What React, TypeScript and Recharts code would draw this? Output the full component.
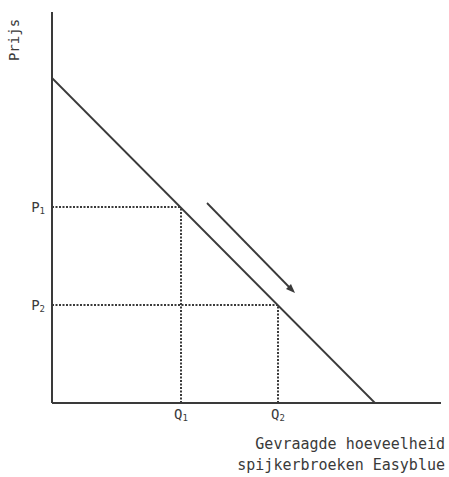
import React from "react";
import { Label, Line, LineChart, ReferenceLine, XAxis, YAxis } from "recharts";

const demand = [
  { q: 0, p: 325 },
  { q: 323, p: 0 },
];
const arrow = [
  { q: 155, p: 200 },
  { q: 240, p: 113 },
];
const quantities = [129, 226];
const prices = [196, 98];
const qLabels = ["Q", "Q"];
const pLabels = ["P", "P"];
const subs = ["1", "2"];
const yTitle = "Prijs";
const xTitle = ["Gevraagde hoeveelheid", "spijkerbroeken Easyblue"];

const FONT = "'DejaVu Sans Mono', monospace";
const INK = "#3a3a3a";

function QTick({ x, y, payload }: any) {
  const i = quantities.indexOf(payload.value);
  return (
    <text x={x} y={y + 16} textAnchor="middle" fontFamily={FONT} fontSize={14} fill={INK}>
      <tspan>{qLabels[i]}</tspan>
      <tspan fontSize={9} dy={2}>{subs[i]}</tspan>
    </text>
  );
}

function PTick({ x, y, payload }: any) {
  const i = prices.indexOf(payload.value);
  return (
    <text x={x - 7} y={y + 5} textAnchor="end" fontFamily={FONT} fontSize={14} fill={INK}>
      <tspan>{pLabels[i]}</tspan>
      <tspan fontSize={9} dy={2}>{subs[i]}</tspan>
    </text>
  );
}

function ArrowHead(props: any) {
  const { cx, cy, index } = props;
  if (index !== arrow.length - 1) return <g key={index} />;
  return (
    <polygon
      key={index}
      points={`${cx + 3},${cy + 3} ${cx - 6},${cy - 1} ${cx - 1},${cy - 6}`}
      fill={INK}
    />
  );
}

export default function App() {
  return (
    <div style={{ position: "absolute", left: 0, top: 0, background: "#fff" }}>
      <LineChart width={449} height={477} margin={{ top: 12, right: 8, bottom: 0, left: 0 }}>
        <XAxis
          type="number"
          dataKey="q"
          domain={[0, 389]}
          ticks={quantities}
          tick={<QTick />}
          tickLine={false}
          tickSize={0}
          tickMargin={0}
          height={74}
          axisLine={{ stroke: INK, strokeWidth: 2 }}
        >
          <Label
            content={({ viewBox }: any) => (
              <g fontFamily={FONT} fontSize={15} fill={INK}>
                <text x={viewBox.x + viewBox.width + 4} y={viewBox.y + 46} textAnchor="end">
                  {xTitle[0]}
                </text>
                <text x={viewBox.x + viewBox.width + 4} y={viewBox.y + 67} textAnchor="end">
                  {xTitle[1]}
                </text>
              </g>
            )}
          />
        </XAxis>
        <YAxis
          type="number"
          dataKey="p"
          domain={[0, 391]}
          ticks={prices}
          tick={<PTick />}
          tickLine={false}
          tickSize={0}
          tickMargin={0}
          width={52}
          axisLine={{ stroke: INK, strokeWidth: 2 }}
        >
          <Label
            content={({ viewBox }: any) => (
              <text
                x={viewBox.x + 19}
                y={viewBox.y + 28}
                transform={`rotate(-90 ${viewBox.x + 19} ${viewBox.y + 28})`}
                textAnchor="middle"
                fontFamily={FONT}
                fontSize={14}
                fill={INK}
              >
                {yTitle}
              </text>
            )}
          />
        </YAxis>
        {quantities.map((q, i) => (
          <ReferenceLine
            key={"h" + i}
            segment={[
              { x: 0, y: prices[i] },
              { x: q, y: prices[i] },
            ]}
            stroke={INK}
            strokeWidth={2}
            strokeDasharray="2 1.5"
          />
        ))}
        {quantities.map((q, i) => (
          <ReferenceLine
            key={"v" + i}
            segment={[
              { x: q, y: 0 },
              { x: q, y: prices[i] },
            ]}
            stroke={INK}
            strokeWidth={2}
            strokeDasharray="2 1.5"
          />
        ))}
        <Line
          data={demand}
          dataKey="p"
          type="linear"
          stroke={INK}
          strokeWidth={1.8}
          dot={false}
          isAnimationActive={false}
        />
        <Line
          data={arrow}
          dataKey="p"
          type="linear"
          stroke={INK}
          strokeWidth={1.8}
          dot={<ArrowHead />}
          activeDot={false}
          isAnimationActive={false}
        />
      </LineChart>
    </div>
  );
}
